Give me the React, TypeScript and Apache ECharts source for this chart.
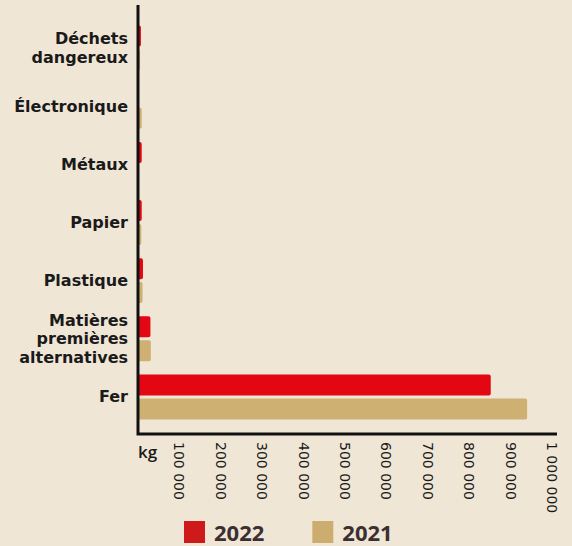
import React, { useEffect, useRef } from "react";
import * as echarts from "echarts";

const categories = [
  "Déchets\ndangereux",
  "Électronique",
  "Métaux",
  "Papier",
  "Plastique",
  "Matières\npremières\nalternatives",
  "Fer",
];
const values2022 = [7000, 0, 9000, 9000, 12000, 30000, 852000];
const values2021 = [5000, 9000, 0, 8000, 11000, 31000, 940000];
const xTicks = [0, 100000, 200000, 300000, 400000, 500000, 600000, 700000, 800000, 900000, 1000000];
const seriesNames = ["2022", "2021"];

const BG = "#f0e6d6";
const RED = "#e30613";
const TAN = "#cfb073";

function fmt(v: number) {
  return String(v).replace(/\B(?=(\d{3})+(?!\d))/g, " ");
}

export default function App() {
  const ref = useRef<HTMLDivElement>(null);
  useEffect(() => {
    if (!ref.current) return;
    const chart = echarts.init(ref.current, null, { renderer: "svg" });
    chart.setOption({
      animation: false,
      backgroundColor: BG,
      textStyle: { fontFamily: "Open Sans" },
      grid: { left: 138, right: 20, top: 19, bottom: 120, containLabel: false },
      xAxis: {
        type: "value",
        min: 0,
        max: xTicks[xTicks.length - 1],
        interval: 100000,
        offset: 8,
        axisLine: { show: false },
        axisTick: { show: false },
        splitLine: { show: false },
        axisLabel: {
          rotate: -90,
          margin: 8,
          fontFamily: "DejaVu Sans",
          fontSize: 14,
          color: "#1a1a1a",
          formatter: (v: number) => (v === 0 ? "" : fmt(v)),
        },
      },
      yAxis: {
        type: "category",
        inverse: true,
        data: categories,
        axisLine: { show: false },
        axisTick: { show: false },
        axisLabel: {
          margin: 10,
          fontFamily: "DejaVu Sans",
          fontSize: 16,
          fontWeight: "bold",
          lineHeight: 18.5,
          color: "#1a1a1a",
          align: "right",
        },
      },
      legend: {
        left: 184,
        top: 521,
        padding: 0,
        itemWidth: 21,
        itemHeight: 22,
        itemGap: 48,
        icon: "rect",
        textStyle: {
          fontFamily: "Open Sans",
          fontSize: 22,
          fontWeight: 700,
          lineHeight: 22,
          color: "#3b2f31",
          padding: [0, 0, 0, 4],
        },
        data: [
          { name: seriesNames[0], itemStyle: { color: "#cf1a1c" } },
          { name: seriesNames[1], itemStyle: { color: "#cdad6f" } },
        ],
      },
      graphic: [
        {
          type: "polyline",
          shape: { points: [[138, 5], [138, 434], [557, 434]] },
          style: { stroke: "#111", lineWidth: 3, fill: null },
          z: 10,
        },
        {
          type: "text",
          x: 138,
          y: 443,
          style: {
            text: "kg",
            fontFamily: "Open Sans",
            fontSize: 17,
            fontWeight: 600,
            fill: "#1a1a1a",
          },
        },
      ],
      series: [
        {
          name: seriesNames[0],
          type: "bar",
          data: values2022,
          barWidth: 21,
          barGap: "14%",
          itemStyle: { color: RED, borderRadius: [0, 2, 2, 0] },
        },
        {
          name: seriesNames[1],
          type: "bar",
          data: values2021,
          barWidth: 21,
          barGap: "14%",
          itemStyle: { color: TAN, borderRadius: [0, 2, 2, 0] },
        },
      ],
    });
    return () => chart.dispose();
  }, []);
  return (
    <div
      ref={ref}
      style={{ position: "absolute", left: 0, top: 0, width: 572, height: 546, background: BG }}
    />
  );
}
